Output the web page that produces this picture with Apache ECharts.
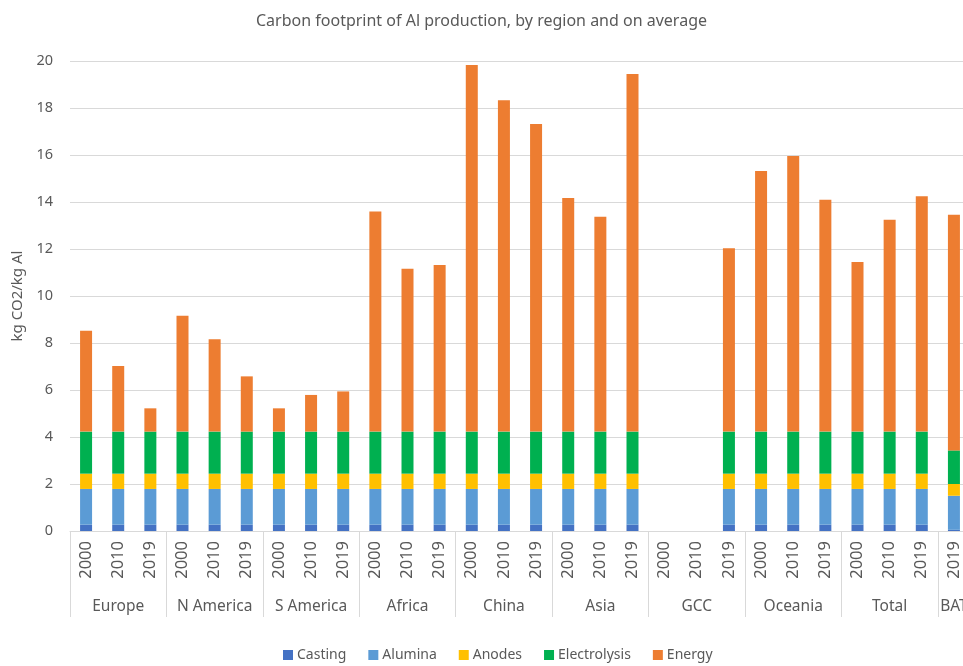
<!DOCTYPE html>
<html>
<head>
<meta charset="utf-8">
<script src="https://cdn.jsdelivr.net/npm/echarts@6/dist/echarts.min.js"></script>
<style>
  html, body { margin: 0; padding: 0; background: #fff; }
  #chart { width: 963px; height: 666px; }
</style>
</head>
<body>
<div id="chart"></div>
<script>
// Regions and the years shown for each one
const regions = ['Europe', 'N America', 'S America', 'Africa', 'China', 'Asia', 'GCC', 'Oceania', 'Total', 'BAT'];
const regionYears = [
  ['2000', '2010', '2019'], ['2000', '2010', '2019'], ['2000', '2010', '2019'],
  ['2000', '2010', '2019'], ['2000', '2010', '2019'], ['2000', '2010', '2019'],
  ['2000', '2010', '2019'], ['2000', '2010', '2019'], ['2000', '2010', '2019'],
  ['2019']
];

// kg CO2 per kg Al, by process step (one value per bar, left to right)
const casting = [
  0.27, 0.27, 0.27,  0.27, 0.27, 0.27,  0.27, 0.27, 0.27,  0.27, 0.27, 0.27,
  0.27, 0.27, 0.27,  0.27, 0.27, 0.27,  null, null, 0.27,  0.27, 0.27, 0.27,
  0.27, 0.27, 0.27,  0.05
];
const alumina = [
  1.52, 1.52, 1.52,  1.52, 1.52, 1.52,  1.52, 1.52, 1.52,  1.52, 1.52, 1.52,
  1.52, 1.52, 1.52,  1.52, 1.52, 1.52,  null, null, 1.52,  1.52, 1.52, 1.52,
  1.52, 1.52, 1.52,  1.45
];
const anodes = [
  0.65, 0.65, 0.65,  0.65, 0.65, 0.65,  0.65, 0.65, 0.65,  0.65, 0.65, 0.65,
  0.65, 0.65, 0.65,  0.65, 0.65, 0.65,  null, null, 0.65,  0.65, 0.65, 0.65,
  0.65, 0.65, 0.65,  0.50
];
const electrolysis = [
  1.79, 1.79, 1.79,  1.79, 1.79, 1.79,  1.79, 1.79, 1.79,  1.79, 1.79, 1.79,
  1.79, 1.79, 1.79,  1.79, 1.79, 1.79,  null, null, 1.79,  1.79, 1.79, 1.79,
  1.79, 1.79, 1.79,  1.43
];
const energy = [
  4.29, 2.79, 0.99,  4.93, 3.93, 2.35,  0.99, 1.56, 1.71,  9.37, 6.93, 7.09,
  15.60, 14.10, 13.09,  9.94, 9.14, 15.22,  null, null, 7.80,  11.09, 11.73, 9.87,
  7.22, 9.02, 10.01,  10.03
];

const seriesNames = ['Casting', 'Alumina', 'Anodes', 'Electrolysis', 'Energy'];
const seriesColors = ['#4472C4', '#5B9BD5', '#FFC000', '#00B050', '#ED7D31'];
const seriesData = [casting, alumina, anodes, electrolysis, energy];

// Flatten into one category per bar; remember where each region group starts
const yearCats = [];
const groupCats = [];
const groupStart = new Set();
const groupMid = new Set();
regions.forEach((r, gi) => {
  const ys = regionYears[gi];
  groupStart.add(yearCats.length);
  groupMid.add(yearCats.length + Math.floor((ys.length - 1) / 2));
  ys.forEach(y => { yearCats.push(y); groupCats.push(r); });
});

const FONT = 'Noto Sans';
const TEXT = '#595959';
const GRID = '#d9d9d9';

const chart = echarts.init(document.getElementById('chart'), null, { renderer: 'canvas' });
chart.setOption({
  animation: false,
  textStyle: { fontFamily: FONT },
  title: {
    text: 'Carbon footprint of Al production, by region and on average',
    left: 'center',
    top: 8,
    textStyle: { fontFamily: FONT, fontSize: 16, fontWeight: 'normal', color: TEXT }
  },
  legend: {
    data: seriesNames,
    left: 283,
    top: 648,
    padding: 0,
    icon: 'rect',
    itemWidth: 10,
    itemHeight: 10,
    itemGap: 22,
    textStyle: { fontFamily: FONT, fontSize: 14, color: TEXT, padding: [0, 0, 0, -1] }
  },
  // the plot runs a little past the right edge of the page, so the last group is clipped
  grid: { left: 70, width: 900, top: 61, bottom: 135, containLabel: false, outerBoundsMode: 'none' },
  xAxis: [
    {
      type: 'category',
      data: yearCats,
      position: 'bottom',
      axisLine: { lineStyle: { color: GRID, width: 1 } },
      axisTick: { show: false },
      axisLabel: {
        rotate: 90,
        interval: 0,
        margin: 10,
        fontFamily: FONT,
        fontSize: 16.5,
        color: TEXT
      }
    },
    {
      type: 'category',
      data: groupCats,
      position: 'bottom',
      axisLine: { show: false },
      axisTick: {
        show: true,
        length: 86,
        interval: (i) => groupStart.has(i),
        lineStyle: { color: GRID, width: 1 }
      },
      axisLabel: {
        interval: (i) => groupMid.has(i),
        margin: 68,
        fontFamily: FONT,
        fontSize: 15.5,
        color: TEXT
      },
      splitLine: { show: false }
    }
  ],
  yAxis: {
    type: 'value',
    min: 0,
    max: 20,
    interval: 2,
    name: 'kg CO2/kg Al',
    nameLocation: 'middle',
    nameGap: 44,
    nameTextStyle: { fontFamily: FONT, fontSize: 15, color: TEXT },
    axisLine: { show: false },
    axisTick: { show: false },
    axisLabel: { margin: 17, fontFamily: FONT, fontSize: 14.5, color: TEXT },
    splitLine: { lineStyle: { color: GRID, width: 1 } }
  },
  series: seriesNames.map((name, i) => ({
    name: name,
    type: 'bar',
    stack: 'total',
    xAxisIndex: 0,
    barWidth: 12,
    itemStyle: { color: seriesColors[i] },
    data: seriesData[i]
  }))
});
</script>
</body>
</html>
